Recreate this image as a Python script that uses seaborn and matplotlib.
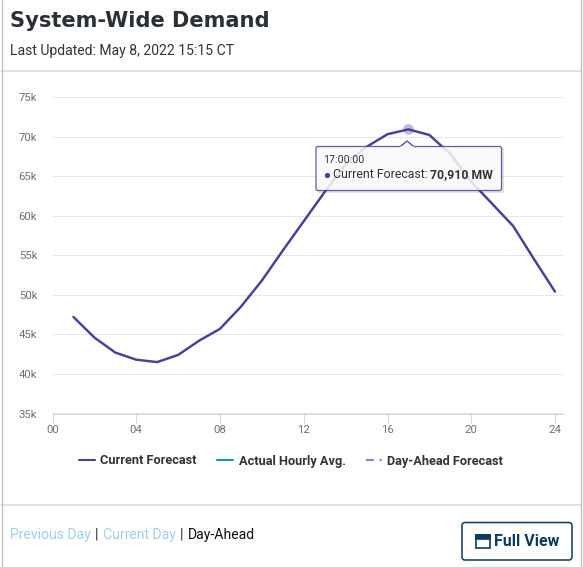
import pandas as pd
import seaborn as sns
import matplotlib
matplotlib.use("Agg")
import matplotlib.pyplot as plt
import matplotlib.patheffects as pe
from matplotlib.lines import Line2D
from matplotlib.patches import FancyBboxPatch, Polygon, Rectangle
from matplotlib.transforms import IdentityTransform

# Values
hours = [1, 2, 3, 4, 5, 6, 7, 8, 9, 10, 11, 12, 13, 14, 15, 16, 17, 18, 19, 20, 21, 22, 23, 24]
current_forecast = [47200, 44600, 42700, 41800, 41500, 42400, 44200, 45700, 48500, 51800, 55600, 59300,
                    63000, 66500, 68700, 70300, 70910, 70200, 67800, 64300, 61500, 58700, 54500, 50400]
x_ticks = [0, 4, 8, 12, 16, 20, 24]
x_labels = ["00", "04", "08", "12", "16", "20", "24"]
y_ticks = [35000, 40000, 45000, 50000, 55000, 60000, 65000, 70000, 75000]
y_labels = ["35k", "40k", "45k", "50k", "55k", "60k", "65k", "70k", "75k"]
peak_hour = 17
peak_value = 70910

W, H = 583, 567
PURPLE = "#4e3d96"

sns.set_theme(style="white")
plt.rcParams["font.family"] = ["Roboto", "DejaVu Sans"]

fig = plt.figure(figsize=(W / 100, H / 100), dpi=100)

# plot area, pixel positions from the reference
left, right, top, bottom = 52.5, 563, 97, 413.5
ax = fig.add_axes([left / W, 1 - bottom / H, (right - left) / W, (bottom - top) / H])
df = pd.DataFrame({"hour": hours, "mw": current_forecast})
sns.lineplot(data=df, x="hour", y="mw", color=PURPLE, linewidth=1.75, ax=ax, zorder=3, clip_on=False)
ax.scatter([peak_hour], [peak_value], s=60, color="#b9b4dc", alpha=0.9, zorder=2, linewidths=0)

ax.set_xlim(0, 24 * (right - left) / (555 - left))
ax.set_ylim(35000, 75000)
ax.set_xticks(x_ticks, x_labels)
ax.set_yticks(y_ticks, y_labels)
ax.set_xlabel("")
ax.set_ylabel("")
ax.grid(axis="y", color="#e6e6e6", linewidth=0.75)
ax.set_axisbelow(True)
ax.tick_params(axis="x", length=6.5, width=0.75, color="#ccd6eb", labelsize=8.2, labelcolor="#707070", pad=2, bottom=True)
ax.tick_params(axis="y", length=0, labelsize=8.2, labelcolor="#707070", pad=11)
for side in ["top", "right", "left"]:
    ax.spines[side].set_visible(False)
ax.spines["bottom"].set_color("#ccd6eb")
ax.spines["bottom"].set_linewidth(0.75)

# legend
handles = [
    Line2D([], [], color=PURPLE, lw=1.5),
    Line2D([], [], color="#0f9aa8", lw=1.5),
    Line2D([], [], color="#8f7fcf", lw=1.5, dashes=(3.8, 2.7, 1, 2.7)),
]
names = ["Current Forecast", "Actual Hourly Avg.", "Day-Ahead Forecast"]
ax.legend(handles, names, loc="center", bbox_to_anchor=(291, H - 461), bbox_transform=IdentityTransform(),
          ncol=3, frameon=False, handlelength=1.25, handletextpad=0.42, columnspacing=1.6,
          prop={"size": 9.2, "weight": "bold", "family": "Roboto"}, labelcolor="#333333")

# overlay in pixel coordinates for the page furniture
ov = fig.add_axes([0, 0, 1, 1], zorder=5)
ov.set_xlim(0, W)
ov.set_ylim(H, 0)
ov.axis("off")
ov.patch.set_alpha(0)

for y in [71, 505]:
    ov.plot([1, 581], [y, y], color="#dddddd", lw=1.2)
ov.plot([1.5, 1.5], [0, H], color="#bdbdbd", lw=0.9)
ov.plot([580.5, 580.5], [0, H], color="#bdbdbd", lw=0.9)

ov.text(10, 21, "System-Wide Demand", fontsize=15.1, fontweight="bold", color="#2b3036",
        family="DejaVu Sans", va="center")
ov.text(10, 51, "Last Updated: May 8, 2022 15:15 CT", fontsize=10.05, color="#333333", va="center")

# tooltip
box = FancyBboxPatch((316, 146.5), 185.5, 44, boxstyle="round,pad=0,rounding_size=2",
                     fc="#f9f9f9", ec=PURPLE, lw=0.9, alpha=0.86)
ov.add_patch(box)
ov.plot([318, 502.5, 502.5], [191.8, 191.8, 148], color="#000000", alpha=0.15, lw=1.1)
ov.add_patch(Polygon([(400, 146.8), (407, 141), (414, 146.8)], closed=False, fc="#f9f9f9", ec=PURPLE, lw=0.9))
ov.plot([400.8, 413.2], [146.6, 146.6], color="#f9f9f9", lw=1.2)
ov.text(323, 160, "17:00:00", fontsize=7.7, color="#333333", va="center")
ov.scatter([326.5], [175], s=14, color=PURPLE, linewidths=0)
ov.text(333, 175, "Current Forecast: ", fontsize=8.95, color="#333333", va="center")
ov.text(430, 175, "70,910 MW", fontsize=8.8, fontweight="bold", color="#333333", va="center")

# footer links
ov.text(10, 535, "Previous Day", fontsize=10.1, color="#9dd0ec", va="center")
ov.text(95, 535, "|", fontsize=10, color="#222222", va="center")
ov.text(103, 535, "Current Day", fontsize=10.1, color="#9dd0ec", va="center")
ov.text(180, 535, "|", fontsize=10, color="#222222", va="center")
ov.text(188, 535, "Day-Ahead", fontsize=10.1, color="#111111", va="center")

# Full View button
ov.add_patch(FancyBboxPatch((462, 522.5), 110, 37.5, boxstyle="round,pad=0,rounding_size=3",
                            fc="white", ec="#0b3a5e", lw=1.1))
ov.add_patch(Rectangle((476, 535), 14, 13, fc="white", ec="#0b3a5e", lw=1.2))
ov.add_patch(Rectangle((476, 535), 14, 4, fc="#0b3a5e", ec="#0b3a5e", lw=1.2))
ov.text(494, 541, "Full View", fontsize=11.5, fontweight="bold", color="#0b3a5e", va="center")

fig.savefig("out.png", dpi=100)
